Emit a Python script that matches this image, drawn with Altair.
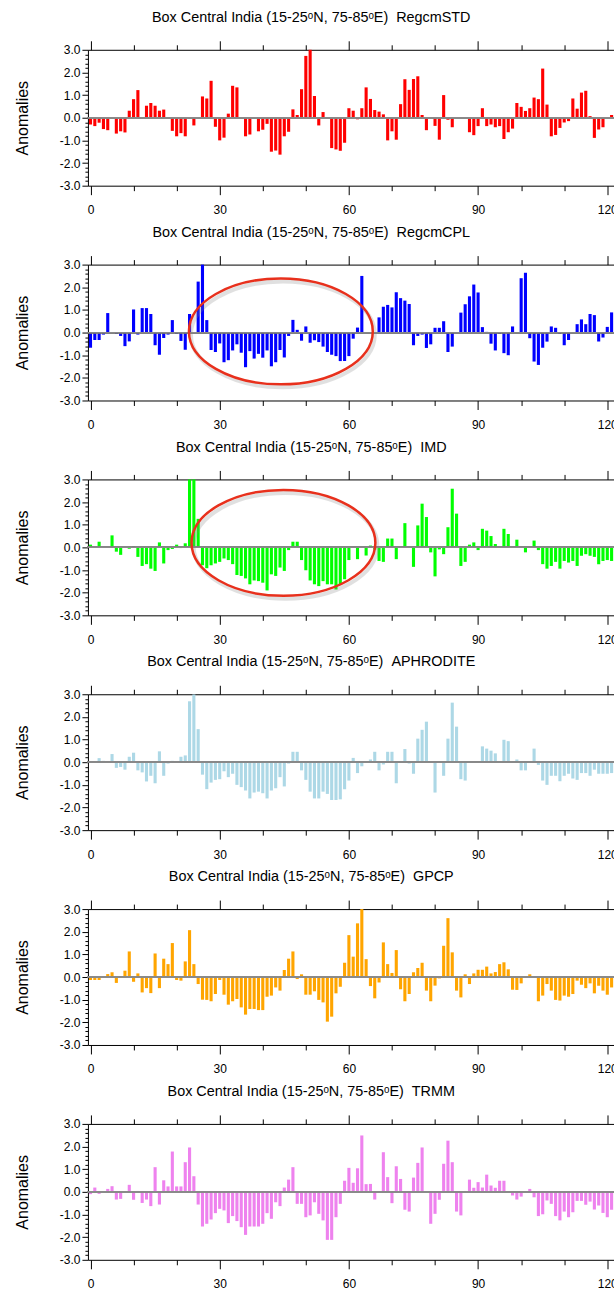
import altair as alt
import pandas as pd

x_idx = list(range(122))

names = ["RegcmSTD", "RegcmCPL", "IMD", "APHRODITE", "GPCP", "TRMM"]
colors = ["#FF0000", "#0000FF", "#00FF00", "#ADD8E6", "#FFA500", "#EE82EE"]

regcm_std = [-0.3, -0.37, -0.22, -0.5, -0.55, -0.03, -0.7, -0.6, -0.65, 0.31,
             0.82, 1.22, 0.03, 0.53, 0.65, 0.53, 0.31, 0.36, -0.03, -0.58,
             -0.82, -0.68, -0.82, -0.05, -0.34, 0.03, 0.94, 0.85, 1.63, -0.4,
             -1.0, -0.88, 0.18, 1.41, 1.34, -0.02, -0.82, -0.74, 0.0, -0.6,
             -0.53, -0.27, -1.5, -1.45, -1.63, -0.82, -0.62, 0.37, 0.12, 1.26,
             2.73, 3.0, 0.96, -0.34, 0.25, 0.0, -1.34, -1.4, -1.46, -1.1,
             0.42, 0.31, -0.07, 0.42, 1.34, 0.83, 0.34, 0.27, 0.15, -1.0,
             -0.6, -0.97, 0.6, 1.7, 1.23, 1.71, 1.83, 0.12, -0.55, 0.0,
             -0.36, -0.97, 1.0, -0.09, -0.42, 0.0, 0.0, 0.0, -0.64, -0.77,
             -0.37, 0.42, -0.37, -0.3, -0.42, -0.37, -0.94, -0.64, -0.48, 0.65,
             0.48, 0.3, 0.42, 0.89, 0.82, 2.17, 0.58, -0.82, -0.76, -0.45,
             -0.21, -0.15, 0.85, 0.4, 1.11, 1.19, 0.07, -0.89, -0.52, -0.42,
             0.0, 0.12]

regcm_cpl = [-0.67, -0.33, -0.33, -0.09, 0.86, -0.03, -0.05, -0.15, -0.6, -0.39,
             1.02, -0.09, 1.08, 1.08, 0.82, -0.56, -0.98, -0.24, -0.09, 0.55,
             -0.05, -0.37, -0.76, 0.82, 0.0, 2.25, 3.0, 0.55, -0.77, -0.86,
             -0.48, -1.31, -1.22, -0.79, -0.52, -0.89, -1.53, -0.82, -1.15, -0.94,
             -1.11, -0.79, -1.49, -1.31, -0.77, -1.1, -0.15, 0.56, 0.12, -0.36,
             0.27, -0.45, -0.34, -0.42, -0.62, -0.86, -0.98, -1.04, -1.26, -1.26,
             -1.04, -0.27, 0.22, 2.5, -0.03, 0.0, 0.0, 0.67, 1.14, 1.22,
             1.11, 1.78, 1.52, 1.41, 1.26, -0.56, -0.15, -0.09, -0.68, -0.52,
             0.21, 0.21, 0.5, -0.86, -0.62, 0.0, 0.88, 1.25, 1.6, 2.12,
             1.77, 0.24, 0.03, -0.49, -0.79, -0.06, -0.91, -1.0, 0.27, 0.0,
             2.4, 2.64, -0.25, -1.28, -1.43, -0.67, -0.4, 0.27, 0.21, -0.06,
             -0.56, -0.33, -0.03, 0.37, 0.58, 0.37, 0.82, 0.77, -0.4, -0.22,
             0.25, 0.89]

imd = [0.12, 0.0, 0.25, 0.02, 0.03, 0.53, -0.19, -0.33, 0.0, -0.06,
       0.06, -0.42, -0.82, -0.74, -0.94, -1.04, 0.22, -0.71, -0.12, -0.07,
       0.12, -0.03, 0.18, 3.0, 3.0, 1.26, -0.79, -0.92, -0.79, -0.71,
       -0.64, -0.49, -0.56, -0.74, -1.22, -1.26, -1.37, -1.63, -1.46, -1.49,
       -1.56, -1.9, -1.19, -1.26, -0.89, -1.04, -0.12, 0.25, 0.25, -0.56,
       -1.01, -1.46, -1.63, -1.71, -1.49, -1.63, -1.63, -1.86, -1.63, -1.41,
       -0.56, 0.0, -0.52, 0.0, -0.36, 0.08, -0.1, -0.6, -0.64, 0.39,
       0.39, -0.52, 0.0, 1.07, 0.0, -0.86, 0.97, 1.93, 1.34, -0.22,
       -1.28, -0.09, -0.3, 0.89, 2.59, 1.49, -0.82, -0.64, 0.12, 0.22,
       -0.12, 0.82, 0.74, 0.5, 0.15, 0.0, 0.82, 0.59, 0.0, 0.34,
       0.03, -0.22, 0.0, 0.3, -0.12, -0.74, -0.94, -0.82, -0.64, -0.94,
       -0.6, -0.67, -0.6, -0.82, -0.37, -0.3, -0.37, -0.42, -0.74, -0.6,
       -0.56, -0.6]

aphrodite = [0.0, 0.0, 0.18, 0.06, -0.03, 0.36, -0.25, -0.21, -0.33, 0.24,
             0.42, -0.36, -0.45, -0.85, -0.6, -0.93, 0.48, -0.6, -0.06, 0.06,
             0.0, 0.24, 0.3, 2.69, 2.99, 1.46, -0.55, -1.19, -0.9, -0.78,
             -0.75, -0.4, -0.66, -0.51, -1.0, -1.1, -1.25, -1.6, -1.34, -1.3,
             -1.37, -1.6, -1.25, -1.15, -0.66, -1.07, -0.06, 0.46, 0.46, -0.36,
             -0.78, -1.3, -1.6, -1.6, -1.3, -1.4, -1.67, -1.67, -1.64, -1.19,
             -0.81, 0.19, -0.48, -0.18, 0.0, 0.12, 0.46, -0.36, -0.1, 0.46,
             0.46, -0.93, 0.03, 0.58, -0.06, -0.51, 1.04, 1.43, 1.79, 0.0,
             -1.34, 0.0, -0.6, 1.04, 2.63, 1.57, -0.75, -0.81, 0.0, 0.04,
             0.0, 0.7, 0.6, 0.51, 0.39, 0.0, 0.99, 0.93, 0.0, 0.12,
             -0.36, -0.36, 0.0, 0.6, -0.12, -0.81, -1.0, -0.6, -0.6, -0.84,
             -0.6, -0.51, -0.72, -0.78, -0.48, -0.48, -0.6, -0.33, -0.51, -0.51,
             -0.51, -0.48]

gpcp = [-0.13, -0.13, -0.13, -0.01, 0.13, 0.21, -0.26, 0.04, 0.28, 1.13,
        -0.21, 0.16, -0.68, -0.49, -0.71, 1.04, -0.49, 0.81, 0.57, 1.5,
        -0.13, -0.16, 0.69, 2.07, 0.57, -0.31, -1.0, -1.01, -1.07, -0.75,
        -0.13, -0.78, -1.22, -1.07, -0.97, -1.34, -1.66, -1.41, -1.41, -1.46,
        -1.46, -0.87, -0.82, -0.46, -0.6, 0.31, 0.81, 1.13, -0.09, 0.12,
        -0.78, -0.78, -0.63, -1.01, -1.12, -1.97, -1.75, -0.72, -0.43, 0.63,
        1.85, 0.9, 2.37, 3.0, 0.79, -0.4, -0.94, -0.24, 1.53, 0.57,
        0.18, 1.19, -0.54, -1.07, -0.75, 0.21, 0.4, 0.63, -0.6, -1.07,
        -0.38, -0.06, 1.38, 2.6, 1.09, -0.6, -0.9, 0.12, -0.31, 0.16,
        0.32, 0.32, 0.46, 0.16, 0.22, 0.57, 0.65, 0.34, -0.56, -0.57,
        -0.28, 0.0, 0.12, 0.0, -1.07, -0.82, -0.31, -0.6, -1.01, -1.04,
        -0.82, -0.87, -0.75, -0.16, -0.34, -0.49, -0.28, -0.72, -0.38, -0.6,
        -0.78, -0.46]

trmm = [-0.1, 0.19, -0.09, 0.03, 0.13, 0.25, -0.34, -0.31, 0.0, 0.31,
        -0.35, 0.04, -0.49, -0.34, -0.63, 1.09, -0.56, 0.51, 0.24, 1.78,
        0.24, 0.24, 1.31, 1.96, 0.69, -0.56, -1.53, -1.41, -1.22, -0.94,
        -0.75, -0.82, -1.38, -1.07, -1.29, -1.56, -1.9, -1.53, -1.53, -1.53,
        -1.41, -0.94, -1.19, -0.46, -0.63, 0.19, 0.54, 1.09, -0.53, -0.53,
        -1.12, -1.04, -0.46, -0.97, -1.26, -2.12, -2.12, -1.12, -0.53, 0.49,
        1.06, 0.4, 1.04, 2.49, 0.34, 0.35, -0.34, 0.0, 1.75, 0.65,
        -0.5, 1.13, 0.57, -0.79, -0.87, 0.63, 1.28, 1.96, 0.0, -1.41,
        -0.97, -0.35, 1.24, 2.26, 1.31, -0.87, -1.04, 0.04, 0.54, 0.18,
        0.43, 0.19, 0.76, 0.28, 0.18, 0.49, 0.49, 0.0, -0.16, -0.34,
        -0.21, 0.03, 0.13, -0.24, -1.07, -0.99, -0.38, -0.53, -1.07, -1.26,
        -0.87, -1.12, -0.9, -0.4, -0.4, -0.57, -0.43, -0.78, -0.6, -0.93,
        -1.12, -0.79]

series = [regcm_std, regcm_cpl, imd, aphrodite, gpcp, trmm]

# annotation ellipses (panel, centre in data units)
ell_panel = ["RegcmCPL", "IMD"]
ell_x = [44.2, 44.8]
ell_y = [0.05, 0.2]

x_ticks = list(range(0, 130, 10))
y_ticks = [round(i * 0.2, 1) for i in range(-15, 16)]

FONT = "Liberation Sans"
PW = 533
PH = 136
xscale = alt.Scale(domain=[-0.6, -0.6 + PW / 4.31], nice=False, zero=False)
yscale = alt.Scale(domain=[-3, 3], nice=False, zero=False)

ell_path = "M -1 0 A 1 0.576 0 1 1 1 0 A 1 0.576 0 1 1 -1 0 Z"

x_major = {"condition": {"test": "datum.value % 30 === 0", "value": 9}, "value": 5}
y_major = {"condition": {"test": "abs(datum.value - round(datum.value)) < 0.01", "value": 6}, "value": 3}

bottom_axis = alt.Axis(values=x_ticks, orient="bottom", title=None, grid=False,
                       labelExpr="datum.value % 30 === 0 ? datum.label : ''",
                       tickSize=x_major, labelPadding=10, labelFontSize=12,
                       labelOverlap=False, format="d")
top_axis = alt.Axis(values=x_ticks, orient="top", title=None, grid=False,
                    labels=False, tickSize=x_major)
y_axis = alt.Axis(values=y_ticks, title="Anomalies", grid=False,
                  labelExpr="abs(datum.value - round(datum.value)) < 0.01 ? "
                            "(datum.value < -0.01 ? '-' : '') + format(abs(datum.value), '.1f') : ''",
                  tickSize=y_major, labelPadding=2, labelFontSize=12,
                  labelOverlap=False, titleFontSize=16, titleFontWeight="normal",
                  titleX=-65.5, titleY=PH / 2, titleAngle=-90, titleBaseline="middle",
                  titleAlign="center")


def panel(name, vals, color):
    df = pd.DataFrame({"x": x_idx, "v": vals})
    base = alt.Chart(df).transform_calculate(x0="datum.x - 0.36", x1="datum.x + 0.36")
    bars = base.mark_bar(color=color).encode(
        x=alt.X("x0:Q", scale=xscale, axis=bottom_axis),
        x2="x1:Q",
        y=alt.Y("v:Q", scale=yscale, axis=y_axis),
        y2=alt.datum(0),
    )
    top = base.mark_bar(opacity=0).encode(
        x=alt.X("x0:Q", scale=xscale, axis=top_axis),
        x2="x1:Q",
        y=alt.Y("v:Q", scale=yscale, axis=y_axis),
        y2=alt.datum(0),
    )
    zero = alt.Chart(df).mark_rule(color="#8a8a8a", strokeWidth=0.8).encode(
        y=alt.YDatum(0, axis=y_axis, scale=yscale)
    )
    layers = [bars, top, zero]
    if name in ell_panel:
        i = ell_panel.index(name)
        edf = pd.DataFrame({"ex": [ell_x[i]], "ey": [ell_y[i]]})
        shadow = alt.Chart(edf).mark_point(shape=ell_path, size=184 * 184, filled=False,
                                           stroke="#888888", strokeWidth=4, opacity=0.25,
                                           xOffset=2, yOffset=3).encode(
            x=alt.X("ex:Q", scale=xscale, axis=None),
            y=alt.Y("ey:Q", scale=yscale, axis=y_axis))
        ring = alt.Chart(edf).mark_point(shape=ell_path, size=184 * 184, filled=False,
                                         stroke="#E8301C", strokeWidth=2.5, opacity=1).encode(
            x=alt.X("ex:Q", scale=xscale, axis=None),
            y=alt.Y("ey:Q", scale=yscale, axis=y_axis))
        layers += [shadow, ring]
    title = alt.TitleParams(
        text="Box Central India (15-25\u1d52N, 75-85\u1d52E)\u00a0\u00a0" + name,
        fontSize=14.4, font=FONT, fontWeight="normal", color="black",
        anchor="middle", dx=312.5 - (89 + PW / 2), offset=4, baseline="alphabetic")
    return alt.layer(*layers, title=title).resolve_axis(x="independent").properties(
        width=PW, height=PH)


panels = [panel(n, s, c) for n, s, c in zip(names, series, colors)]

chart = alt.vconcat(*panels, spacing=79, bounds="flush").properties(
    padding={"left": 14, "top": 8.3, "right": -7.5, "bottom": 0},
    background="white",
).configure_view(stroke="transparent").configure_axis(
    domainColor="black", tickColor="black", domainWidth=1, tickWidth=1,
    labelFont=FONT, titleFont=FONT, labelColor="black", titleColor="black",
)

chart.save("out.html", embed_options={"renderer": "svg", "actions": False})
